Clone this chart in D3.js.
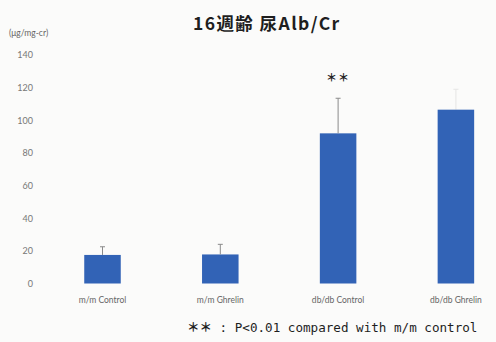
<!DOCTYPE html>
<html>
<head>
<meta charset="utf-8">
<script src="https://cdn.jsdelivr.net/npm/d3@7/dist/d3.min.js"></script>
<style>
  html, body { margin: 0; padding: 0; background: #fbfbfa; }
  svg { display: block; }
</style>
</head>
<body>
<script>
// Urinary albumin/creatinine ratio at 16 weeks of age
const categories = ["m/m Control", "m/m Ghrelin", "db/db Control", "db/db Ghrelin"];
const means = [17.5, 17.8, 92, 106.5];
const errorTops = [22.5, 24, 113.5, 119];
const errorVisible = [1, 1, 1, 0.18];
const yTicks = [0, 20, 40, 60, 80, 100, 120, 140];
const significance = ["", "", "＊＊", ""];

const W = 496, H = 342;
const svg = d3.select("body").append("svg").attr("width", W).attr("height", H);

const x = d3.scaleBand()
  .domain(categories)
  .range([43.6, 514.8])
  .paddingInner(0.69)
  .paddingOuter(0.345);

const y = d3.scaleLinear().domain([0, 140]).range([283.5, 55]);

// title
svg.append("text")
  .attr("x", 193).attr("y", 30)
  .attr("font-family", "'Noto Sans CJK JP', sans-serif")
  .attr("font-weight", 700)
  .attr("font-size", 17.5)
  .attr("letter-spacing", 1.4)
  .attr("fill", "#1e1e1e")
  .text("16週齢 尿Alb/Cr");

// unit label
svg.append("text")
  .attr("x", 9).attr("y", 36)
  .attr("font-family", "Lato, 'Open Sans', sans-serif")
  .attr("font-size", 8.5)
  .attr("fill", "#666")
  .text("(μg/mg-cr)");

// y axis: labels only
const yAxis = d3.axisLeft(y).tickValues(yTicks).tickSize(0).tickPadding(0);
const gy = svg.append("g").attr("transform", "translate(33,0)").call(yAxis);
gy.select(".domain").remove();
gy.selectAll("text")
  .attr("font-family", "Lato, 'Open Sans', sans-serif")
  .attr("font-size", 9)
  .attr("fill", "#777");

// bars
svg.append("g").selectAll("rect")
  .data(categories)
  .join("rect")
  .attr("x", d => x(d))
  .attr("width", x.bandwidth())
  .attr("y", (d, i) => y(means[i]))
  .attr("height", (d, i) => y(0) - y(means[i]))
  .attr("fill", "#3263b6");

// error bars (upper half)
const eb = svg.append("g");
categories.forEach((c, i) => {
  const cx = x(c) + x.bandwidth() / 2;
  const g = eb.append("g").attr("opacity", errorVisible[i]);
  g.append("line")
    .attr("x1", cx).attr("x2", cx)
    .attr("y1", y(means[i])).attr("y2", y(errorTops[i]))
    .attr("stroke", "#8a8a8a").attr("stroke-width", 1);
  g.append("line")
    .attr("x1", cx - 2.5).attr("x2", cx + 2.5)
    .attr("y1", y(errorTops[i])).attr("y2", y(errorTops[i]))
    .attr("stroke", "#8a8a8a").attr("stroke-width", 1);
});

// significance markers
svg.append("g").selectAll("text")
  .data(categories)
  .join("text")
  .attr("x", d => x(d) + x.bandwidth() / 2)
  .attr("y", (d, i) => y(errorTops[i]) - 16)
  .attr("text-anchor", "middle")
  .attr("font-family", "'Noto Sans CJK JP', sans-serif")
  .attr("font-weight", 700)
  .attr("font-size", 11)
  .attr("letter-spacing", 1)
  .attr("fill", "#222")
  .text((d, i) => significance[i]);

// category labels
const xAxis = d3.axisBottom(x).tickSize(0).tickPadding(0);
const gx = svg.append("g").attr("transform", "translate(0,303)").call(xAxis);
gx.select(".domain").remove();
gx.selectAll("text")
  .attr("dy", 0)
  .attr("font-family", "Lato, 'Open Sans', sans-serif")
  .attr("font-size", 8.5)
  .attr("fill", "#666");

// footnote
const note = svg.append("text")
  .attr("x", 187).attr("y", 332)
  .attr("fill", "#1e1e1e");
note.append("tspan")
  .attr("font-family", "'Noto Sans CJK JP', sans-serif")
  .attr("font-weight", 700)
  .attr("font-size", 12.5)
  .text("＊＊");
note.append("tspan")
  .attr("font-family", "'DejaVu Sans Mono', monospace")
  .attr("font-size", 12.6)
  .text(" : P<0.01 compared with m/m control");
</script>
</body>
</html>
